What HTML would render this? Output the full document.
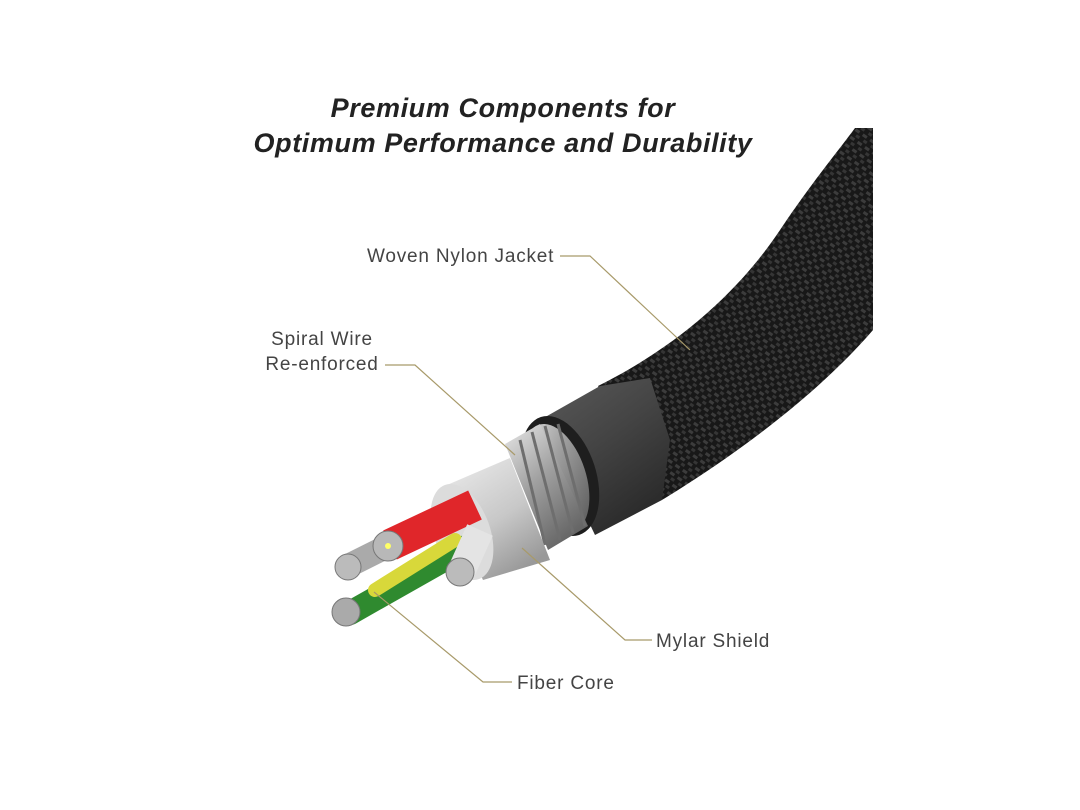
<!DOCTYPE html>
<html><head><meta charset="utf-8"><style>
html,body{margin:0;padding:0;background:#fff;}
svg{display:block}
</style></head><body>
<svg width="1080" height="810" viewBox="0 0 1080 810" xmlns="http://www.w3.org/2000/svg">
<defs>
<pattern id="weave" width="9" height="9" patternUnits="userSpaceOnUse" patternTransform="rotate(35)">
<rect width="9" height="9" fill="#181818"/>
<rect x="1" y="1" width="5" height="3" fill="#3c3c3c"/>
<rect x="5" y="5.5" width="5" height="3" fill="#353535"/>
</pattern>
<linearGradient id="rub" x1="0" y1="0" x2="0.6" y2="1">
<stop offset="0" stop-color="#5a5a5a"/><stop offset="0.5" stop-color="#444"/><stop offset="1" stop-color="#2a2a2a"/>
</linearGradient>
<linearGradient id="spir" x1="0" y1="0" x2="0.6" y2="1">
<stop offset="0" stop-color="#e8e8e8"/><stop offset="0.5" stop-color="#a0a0a0"/><stop offset="1" stop-color="#666"/>
</linearGradient>
<linearGradient id="myl" x1="0" y1="0" x2="0.6" y2="1">
<stop offset="0" stop-color="#eee"/><stop offset="0.6" stop-color="#c8c8c8"/><stop offset="1" stop-color="#999"/>
</linearGradient>
</defs>
<rect width="1080" height="810" fill="#fff"/>
<g font-family="Liberation Sans, sans-serif" font-weight="bold" font-style="italic" font-size="27" fill="#222" text-anchor="middle" letter-spacing="0.6">
<text x="503" y="117">Premium Components for</text>
<text x="503" y="152">Optimum Performance and Durability</text>
</g>

<!-- jacket -->
<path d="M598 386 C680 345 740 290 780 230 C810 185 835 155 855 128 L873 128 L873 330 C830 380 760 440 662 500 Z" fill="url(#weave)"/>
<!-- rubber -->
<path d="M540 420 L600 386 L650 378 L670 440 L662 500 L595 535 Z" fill="url(#rub)"/>
<ellipse cx="560" cy="476" rx="36" ry="62" transform="rotate(-18 560 476)" fill="#1e1e1e"/>
<!-- spiral -->
<ellipse cx="556" cy="478" rx="30" ry="56" transform="rotate(-18 556 478)" fill="url(#spir)"/>
<path d="M505 444 L540 424 L588 526 L548 550 Z" fill="url(#spir)"/>
<g stroke="#6e6e6e" stroke-width="3">
<line x1="520" y1="440" x2="545" y2="545"/><line x1="532" y1="432" x2="560" y2="540"/><line x1="545" y1="426" x2="573" y2="533"/><line x1="558" y1="424" x2="585" y2="526"/>
</g>
<!-- mylar -->
<path d="M440 488 L510 458 L550 560 L483 580 Z" fill="url(#myl)"/>
<ellipse cx="462" cy="532" rx="28" ry="50" transform="rotate(-20 462 532)" fill="#dcdcdc"/>
<!-- wires -->
<path d="M470 545 L350 613" stroke="#2f8a2f" stroke-width="24" stroke-linecap="round"/>
<circle cx="346" cy="612" r="14" fill="#aaa" stroke="#777"/>
<path d="M455 540 L375 590" stroke="#d8d83a" stroke-width="14" stroke-linecap="round"/>
<path d="M430 525 L350 565" stroke="#aaa" stroke-width="24"/>
<circle cx="348" cy="567" r="13" fill="#bbb" stroke="#777"/>
<path d="M475 505 L390 545" stroke="#e0262a" stroke-width="32"/>
<circle cx="388" cy="546" r="15" fill="#b8b8b8" stroke="#777"/>
<circle cx="388" cy="546" r="3" fill="#ff6"/>
<path d="M480 530 L462 570" stroke="#e4e4e4" stroke-width="28"/>
<circle cx="460" cy="572" r="14" fill="#bbb" stroke="#777"/>

<g stroke="#a89a6a" stroke-width="1.2" fill="none">
<polyline points="560,256 590,256 690,350"/>
<polyline points="385,365 415,365 515,455"/>
<polyline points="522,548 625,640 652,640"/>
<polyline points="374,592 483,682 512,682"/>
</g>
<g font-family="Liberation Sans, sans-serif" font-size="19" fill="#444" letter-spacing="0.8">
<text x="367" y="262">Woven Nylon Jacket</text>
<text x="322" y="345" text-anchor="middle">Spiral Wire</text>
<text x="322" y="370" text-anchor="middle">Re-enforced</text>
<text x="656" y="647">Mylar Shield</text>
<text x="517" y="689">Fiber Core</text>
</g>
</svg>
</body></html>
